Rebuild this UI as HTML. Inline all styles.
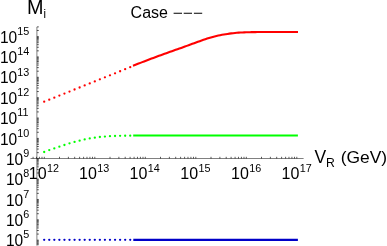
<!DOCTYPE html><html><head><meta charset="utf-8"><style>html,body{margin:0;padding:0;background:#fff}svg{display:block;will-change:transform}text{font-family:"Liberation Sans",sans-serif;fill:#000}</style></head><body>
<svg width="387" height="246" viewBox="0 0 387 246">
<rect width="387" height="246" fill="#fff"/>
<g stroke="#000" stroke-width="0.5" fill="none">
<line x1="36.9" y1="27.0" x2="36.9" y2="245.6"/>
<line x1="30.5" y1="158.5" x2="303.6" y2="158.5"/>
<path stroke-width="0.65" d="M36.9 244.72h1.9M36.9 243.35h1.9M36.9 242.17h1.9M36.9 241.13h1.9M36.9 240.20h1.9M36.9 234.07h1.9M36.9 230.49h1.9M36.9 227.94h1.9M36.9 225.97h1.9M36.9 224.36h1.9M36.9 222.99h1.9M36.9 221.81h1.9M36.9 220.77h1.9M36.9 219.84h1.9M36.9 213.71h1.9M36.9 210.13h1.9M36.9 207.58h1.9M36.9 205.61h1.9M36.9 204.00h1.9M36.9 202.63h1.9M36.9 201.45h1.9M36.9 200.41h1.9M36.9 199.48h1.9M36.9 193.35h1.9M36.9 189.77h1.9M36.9 187.22h1.9M36.9 185.25h1.9M36.9 183.64h1.9M36.9 182.27h1.9M36.9 181.09h1.9M36.9 180.05h1.9M36.9 179.12h1.9M36.9 172.99h1.9M36.9 169.41h1.9M36.9 166.86h1.9M36.9 164.89h1.9M36.9 163.28h1.9M36.9 161.91h1.9M36.9 160.73h1.9M36.9 159.69h1.9M36.9 158.76h1.9M36.9 152.63h1.9M36.9 149.05h1.9M36.9 146.50h1.9M36.9 144.53h1.9M36.9 142.92h1.9M36.9 141.55h1.9M36.9 140.37h1.9M36.9 139.33h1.9M36.9 138.40h1.9M36.9 132.27h1.9M36.9 128.69h1.9M36.9 126.14h1.9M36.9 124.17h1.9M36.9 122.56h1.9M36.9 121.19h1.9M36.9 120.01h1.9M36.9 118.97h1.9M36.9 118.04h1.9M36.9 111.91h1.9M36.9 108.33h1.9M36.9 105.78h1.9M36.9 103.81h1.9M36.9 102.20h1.9M36.9 100.83h1.9M36.9 99.65h1.9M36.9 98.61h1.9M36.9 97.68h1.9M36.9 91.55h1.9M36.9 87.97h1.9M36.9 85.42h1.9M36.9 83.45h1.9M36.9 81.84h1.9M36.9 80.47h1.9M36.9 79.29h1.9M36.9 78.25h1.9M36.9 77.32h1.9M36.9 71.19h1.9M36.9 67.61h1.9M36.9 65.06h1.9M36.9 63.09h1.9M36.9 61.48h1.9M36.9 60.11h1.9M36.9 58.93h1.9M36.9 57.89h1.9M36.9 56.96h1.9M36.9 50.83h1.9M36.9 47.25h1.9M36.9 44.70h1.9M36.9 42.73h1.9M36.9 41.12h1.9M36.9 39.75h1.9M36.9 38.57h1.9M36.9 37.53h1.9M36.9 36.60h1.9M36.9 30.47h1.9M36.9 26.89h1.9M33.10 158.5v-1.7M36.48 158.5v-1.7M39.41 158.5v-1.7M41.99 158.5v-1.7M44.30 158.5v-1.7M59.50 158.5v-1.7M68.39 158.5v-1.7M74.70 158.5v-1.7M79.60 158.5v-1.7M83.60 158.5v-1.7M86.98 158.5v-1.7M89.91 158.5v-1.7M92.49 158.5v-1.7M94.80 158.5v-1.7M110.00 158.5v-1.7M118.89 158.5v-1.7M125.20 158.5v-1.7M130.10 158.5v-1.7M134.10 158.5v-1.7M137.48 158.5v-1.7M140.41 158.5v-1.7M142.99 158.5v-1.7M145.30 158.5v-1.7M160.50 158.5v-1.7M169.39 158.5v-1.7M175.70 158.5v-1.7M180.60 158.5v-1.7M184.60 158.5v-1.7M187.98 158.5v-1.7M190.91 158.5v-1.7M193.49 158.5v-1.7M195.80 158.5v-1.7M211.00 158.5v-1.7M219.89 158.5v-1.7M226.20 158.5v-1.7M231.10 158.5v-1.7M235.10 158.5v-1.7M238.48 158.5v-1.7M241.41 158.5v-1.7M243.99 158.5v-1.7M246.30 158.5v-1.7M261.50 158.5v-1.7M270.39 158.5v-1.7M276.70 158.5v-1.7M281.60 158.5v-1.7M285.60 158.5v-1.7M288.98 158.5v-1.7M291.91 158.5v-1.7M294.49 158.5v-1.7M296.80 158.5v-1.7"/>
</g>
<circle cx="44.20" cy="101.70" r="1.15" fill="#ff0000"/><circle cx="49.26" cy="99.67" r="1.15" fill="#ff0000"/><circle cx="54.32" cy="97.64" r="1.15" fill="#ff0000"/><circle cx="59.38" cy="95.61" r="1.15" fill="#ff0000"/><circle cx="64.44" cy="93.58" r="1.15" fill="#ff0000"/><circle cx="69.50" cy="91.55" r="1.15" fill="#ff0000"/><circle cx="74.56" cy="89.52" r="1.15" fill="#ff0000"/><circle cx="79.62" cy="87.49" r="1.15" fill="#ff0000"/><circle cx="84.68" cy="85.46" r="1.15" fill="#ff0000"/><circle cx="89.74" cy="83.43" r="1.15" fill="#ff0000"/><circle cx="94.80" cy="81.40" r="1.15" fill="#ff0000"/><circle cx="99.86" cy="79.37" r="1.15" fill="#ff0000"/><circle cx="104.92" cy="77.34" r="1.15" fill="#ff0000"/><circle cx="109.98" cy="75.31" r="1.15" fill="#ff0000"/><circle cx="115.04" cy="73.28" r="1.15" fill="#ff0000"/><circle cx="120.10" cy="71.25" r="1.15" fill="#ff0000"/><circle cx="125.16" cy="69.22" r="1.15" fill="#ff0000"/><circle cx="130.22" cy="67.19" r="1.15" fill="#ff0000"/>
<polyline fill="none" stroke="#ff0000" stroke-width="2.1" stroke-linejoin="round" points="133.0,65.8 134.85,65.06 136.71,64.32 138.56,63.59 140.42,62.87 142.27,62.14 144.12,61.42 145.98,60.71 147.83,60.0 149.69,59.3 151.54,58.6 153.39,57.9 155.25,57.21 157.1,56.53 158.96,55.85 160.81,55.17 162.66,54.5 164.52,53.83 166.37,53.16 168.22,52.49 170.08,51.83 171.93,51.17 173.79,50.51 175.64,49.85 177.49,49.2 179.35,48.55 181.2,47.89 183.06,47.22 184.91,46.55 186.76,45.88 188.62,45.2 190.47,44.52 192.33,43.85 194.18,43.18 196.03,42.51 197.89,41.83 199.74,41.15 201.6,40.48 203.45,39.84 205.3,39.22 207.16,38.61 209.01,38.02 210.87,37.46 212.72,36.94 214.57,36.46 216.43,36.0 218.28,35.57 220.13,35.18 221.99,34.83 223.84,34.5 225.7,34.2 227.55,33.92 229.4,33.66 231.26,33.41 233.11,33.17 234.97,32.96 236.82,32.79 238.67,32.65 240.53,32.54 242.38,32.43 244.24,32.35 246.09,32.28 247.94,32.23 249.8,32.18 251.65,32.14 253.51,32.11 255.36,32.08 257.21,32.06 259.07,32.04 260.92,32.02 262.78,32.02 264.63,32.01 266.48,32.01 268.34,32.01 270.19,32.0 272.04,32.0 273.9,32.0 275.75,32.0 277.61,32.0 279.46,32.0 281.31,32.0 283.17,32.0 285.02,32.0 286.88,32.0 288.73,32.0 290.58,32.0 292.44,32.0 294.29,32.0 296.15,32.0 298.0,32.0"/>
<circle cx="44.20" cy="152.00" r="1.15" fill="#00ff00"/><circle cx="49.26" cy="150.05" r="1.15" fill="#00ff00"/><circle cx="54.32" cy="148.40" r="1.15" fill="#00ff00"/><circle cx="59.38" cy="146.70" r="1.15" fill="#00ff00"/><circle cx="64.44" cy="145.00" r="1.15" fill="#00ff00"/><circle cx="69.50" cy="143.35" r="1.15" fill="#00ff00"/><circle cx="74.56" cy="141.95" r="1.15" fill="#00ff00"/><circle cx="79.62" cy="140.70" r="1.15" fill="#00ff00"/><circle cx="84.68" cy="139.45" r="1.15" fill="#00ff00"/><circle cx="89.74" cy="138.45" r="1.15" fill="#00ff00"/><circle cx="94.80" cy="137.70" r="1.15" fill="#00ff00"/><circle cx="99.86" cy="137.00" r="1.15" fill="#00ff00"/><circle cx="104.92" cy="136.55" r="1.15" fill="#00ff00"/><circle cx="109.98" cy="136.20" r="1.15" fill="#00ff00"/><circle cx="115.04" cy="136.00" r="1.15" fill="#00ff00"/><circle cx="120.10" cy="135.85" r="1.15" fill="#00ff00"/><circle cx="125.16" cy="135.75" r="1.15" fill="#00ff00"/><circle cx="130.22" cy="135.65" r="1.15" fill="#00ff00"/>
<line x1="133.2" y1="135.6" x2="297.9" y2="135.6" stroke="#00ff00" stroke-width="2"/>
<circle cx="44.20" cy="239.85" r="1.15" fill="#0000c8"/><circle cx="49.26" cy="239.85" r="1.15" fill="#0000c8"/><circle cx="54.32" cy="239.85" r="1.15" fill="#0000c8"/><circle cx="59.38" cy="239.85" r="1.15" fill="#0000c8"/><circle cx="64.44" cy="239.85" r="1.15" fill="#0000c8"/><circle cx="69.50" cy="239.85" r="1.15" fill="#0000c8"/><circle cx="74.56" cy="239.85" r="1.15" fill="#0000c8"/><circle cx="79.62" cy="239.85" r="1.15" fill="#0000c8"/><circle cx="84.68" cy="239.85" r="1.15" fill="#0000c8"/><circle cx="89.74" cy="239.85" r="1.15" fill="#0000c8"/><circle cx="94.80" cy="239.85" r="1.15" fill="#0000c8"/><circle cx="99.86" cy="239.85" r="1.15" fill="#0000c8"/><circle cx="104.92" cy="239.85" r="1.15" fill="#0000c8"/><circle cx="109.98" cy="239.85" r="1.15" fill="#0000c8"/><circle cx="115.04" cy="239.85" r="1.15" fill="#0000c8"/><circle cx="120.10" cy="239.85" r="1.15" fill="#0000c8"/><circle cx="125.16" cy="239.85" r="1.15" fill="#0000c8"/><circle cx="130.22" cy="239.85" r="1.15" fill="#0000c8"/>
<line x1="133.3" y1="239.8" x2="297.9" y2="239.8" stroke="#0000c8" stroke-width="2.2"/>
<text transform="translate(5.89,246.35) scale(0.97,1)" font-size="16">10</text><text transform="translate(23.30,238.40) scale(0.93,1)" font-size="11.6">5</text>
<text transform="translate(5.89,225.99) scale(0.97,1)" font-size="16">10</text><text transform="translate(23.30,218.04) scale(0.93,1)" font-size="11.6">6</text>
<text transform="translate(5.89,205.63) scale(0.97,1)" font-size="16">10</text><text transform="translate(23.30,197.68) scale(0.93,1)" font-size="11.6">7</text>
<text transform="translate(5.89,185.27) scale(0.97,1)" font-size="16">10</text><text transform="translate(23.30,177.32) scale(0.93,1)" font-size="11.6">8</text>
<text transform="translate(5.89,164.91) scale(0.97,1)" font-size="16">10</text><text transform="translate(23.30,156.96) scale(0.93,1)" font-size="11.6">9</text>
<text transform="translate(-0.10,144.55) scale(0.97,1)" font-size="16">10</text><text transform="translate(17.30,136.60) scale(0.93,1)" font-size="11.6">10</text>
<text transform="translate(-0.10,124.19) scale(0.97,1)" font-size="16">10</text><text transform="translate(17.30,116.24) scale(0.93,1)" font-size="11.6">11</text>
<text transform="translate(-0.10,103.83) scale(0.97,1)" font-size="16">10</text><text transform="translate(17.30,95.88) scale(0.93,1)" font-size="11.6">12</text>
<text transform="translate(-0.10,83.47) scale(0.97,1)" font-size="16">10</text><text transform="translate(17.30,75.52) scale(0.93,1)" font-size="11.6">13</text>
<text transform="translate(-0.10,63.11) scale(0.97,1)" font-size="16">10</text><text transform="translate(17.30,55.16) scale(0.93,1)" font-size="11.6">14</text>
<text transform="translate(-0.10,42.75) scale(0.97,1)" font-size="16">10</text><text transform="translate(17.30,34.80) scale(0.93,1)" font-size="11.6">15</text>
<text transform="translate(28.73,179.40) scale(1.0,1)" font-size="16">10</text><text transform="translate(46.97,171.60) scale(0.93,1)" font-size="11.6">12</text>
<text transform="translate(79.08,179.40) scale(1.0,1)" font-size="16">10</text><text transform="translate(97.32,171.60) scale(0.93,1)" font-size="11.6">13</text>
<text transform="translate(129.58,179.40) scale(1.0,1)" font-size="16">10</text><text transform="translate(147.82,171.60) scale(0.93,1)" font-size="11.6">14</text>
<text transform="translate(180.28,179.40) scale(1.0,1)" font-size="16">10</text><text transform="translate(198.52,171.60) scale(0.93,1)" font-size="11.6">15</text>
<text transform="translate(230.98,179.40) scale(1.0,1)" font-size="16">10</text><text transform="translate(249.22,171.60) scale(0.93,1)" font-size="11.6">16</text>
<text transform="translate(281.48,179.40) scale(1.0,1)" font-size="16">10</text><text transform="translate(299.72,171.60) scale(0.93,1)" font-size="11.6">17</text>
<text x="26.9" y="14.0" font-size="19.8">M<tspan font-size="13" dy="3.9" dx="-0.2" fill="#222">i</tspan></text>
<text x="314.4" y="163.2" font-size="17.5">V<tspan font-size="12.2" dy="3.4">R</tspan></text>
<text x="340.7" y="163.2" font-size="17.4">(GeV)</text>
<text x="130.6" y="17.9" font-size="16">Case</text>
<path d="M173.6 13.2h8.4M183.7 13.2h8.3M193.9 13.2h8.3" stroke="#000" stroke-width="1.1" fill="none"/>
</svg></body></html>
